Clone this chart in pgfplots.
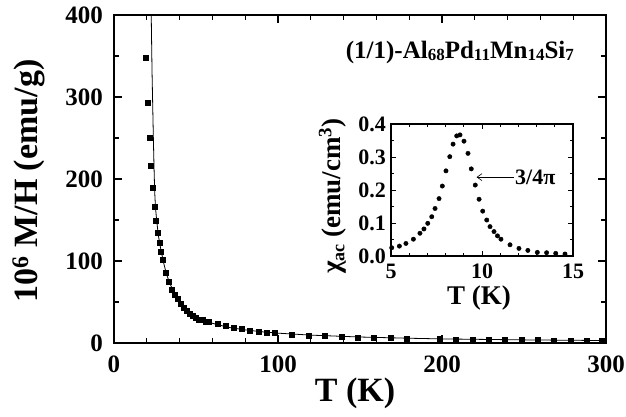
\documentclass[border=0pt]{standalone}
\usepackage{fontspec}
\setmainfont{Liberation Serif}
\usepackage{pgfplots}
\pgfplotsset{compat=1.18}
\usetikzlibrary{arrows.meta}
\newcommand\sub[1]{\raisebox{-1.5pt}{\fontsize{17}{17}\selectfont #1}}
\begin{document}
\begin{tikzpicture}[x=1pt,y=1pt]
\useasboundingbox (0,0) rectangle (626,416);
\begin{axis}[
  at={(114pt,73pt)}, anchor=south west, scale only axis,
  width=492pt, height=328pt,
  xmin=0, xmax=300, ymin=0, ymax=400,
  xtick={0,100,200,300}, ytick={0,100,200,300,400},
  minor xtick={20,40,60,80,120,140,160,180,220,240,260,280},
  minor ytick={50,150,250,350},
  tick align=inside, major tick length=8pt, minor tick length=5pt,
  axis line style={line width=2pt},
  every tick/.style={line width=1.2pt, black},
  /pgf/number format/assume math mode=true,
  ticklabel style={font=\bfseries\fontsize{25}{25}\selectfont},
  xticklabel style={inner sep=0pt, anchor=north, yshift=-13pt},
  yticklabel style={inner sep=0pt, anchor=east, xshift=-11pt},
  xlabel={T (K)},
  ylabel={10\textsuperscript{6} M/H (emu/g)},
  label style={font=\bfseries\fontsize{34}{34}\selectfont},
  xlabel style={at={(axis description cs:0.49,-0.152)}, anchor=center},
  ylabel style={at={(axis description cs:-0.174,0.494)}, anchor=center},
]
\addplot[black, line width=0.8pt] coordinates {
(22.7,400) (23.2,330) (23.6,290) (24.0,250) (24.4,215) (24.8,185) (25.3,165)
(26,150) (27,132) (28,120) (29,110) (30,100) (32,84) (34,73) (36,64) (38,56)
(40,50) (45,39) (50,32) (55,27) (60,24) (70,19) (80,16) (90,13.7) (100,12)
(120,9.6) (150,7.3) (180,5.8) (200,5) (250,3.8) (300,3.0)
};
\addplot[only marks, mark=square*, mark size=2.5pt, black] coordinates {
(19.5,348) (20.7,293) (21.8,250) (22.6,216) (23.6,189) (24.6,166) (25.6,149)
(26.6,134) (27.8,122) (28.7,111) (29.7,101) (31.5,86) (33.5,75) (35.4,65)
(37.0,59) (38.6,54) (40.4,48) (42.3,43) (44.3,39) (46.1,36) (48.0,33)
(49.8,31) (51.8,29) (53.8,28) (55.9,26) (57.9,25.5) (63,23) (68,21) (73,19)
(78,17) (83,15.5) (88.4,14) (93,13) (98,12.5) (108.5,10.6) (118.5,9.3)
(128.7,8.5) (138.6,7.7) (148.6,7.0) (158.5,6.5) (168.5,6.0) (178.5,5.7)
(198.4,4.7) (208.4,4.4) (218.5,4.2) (228.5,4.0) (238.5,3.8) (248.4,3.6)
(258.4,3.5) (268.4,3.3) (278.3,3.2) (288.3,3.1) (297.6,3.0)
};
\node[anchor=base, font=\bfseries\fontsize{25}{25}\selectfont, inner sep=0pt]
  at (axis description cs:0.703,0.866) {(1/1)-Al\sub{68}Pd\sub{11}Mn\sub{14}Si\sub{7}};
\end{axis}
\begin{axis}[
  at={(391pt,160pt)}, anchor=south west, scale only axis,
  width=182pt, height=132pt,
  xmin=5, xmax=15, ymin=0, ymax=0.4,
  xtick={5,10,15}, ytick={0,0.1,0.2,0.3,0.4},
  minor x tick num=4, minor y tick num=1,
  tick align=inside, major tick length=5pt, minor tick length=3pt,
  axis line style={line width=1.8pt},
  axis background/.style={fill=white},
  every tick/.style={line width=1pt, black},
  /pgf/number format/assume math mode=true,
  ticklabel style={font=\bfseries\fontsize{22}{22}\selectfont},
  xticklabel style={inner sep=0pt, anchor=north, yshift=-8pt},
  yticklabel style={inner sep=0pt, anchor=east, xshift=-5pt,
    /pgf/number format/fixed, /pgf/number format/fixed zerofill,
    /pgf/number format/precision=1},
  xlabel={T (K)},
  ylabel={χ\raisebox{-4pt}{\fontsize{18}{18}\selectfont ac} (emu/cm\textsuperscript{3})},
  label style={font=\bfseries\fontsize{27}{27}\selectfont},
  xlabel style={at={(axis description cs:0.484,-0.318)}, anchor=center},
  ylabel style={at={(axis description cs:-0.322,0.455)}, anchor=center},
]
\addplot[only marks, mark=*, mark size=2.2pt, black] coordinates {
(5.04,0.025) (5.46,0.030) (5.82,0.038) (6.23,0.051) (6.59,0.069) (6.81,0.082)
(7.02,0.099) (7.24,0.119) (7.42,0.144) (7.64,0.174) (7.82,0.212) (8.02,0.258)
(8.23,0.301) (8.41,0.339) (8.61,0.364) (8.79,0.367) (9.01,0.348) (9.23,0.311)
(9.41,0.264) (9.63,0.215) (9.84,0.172) (10.04,0.136) (10.26,0.109) (10.44,0.089)
(10.66,0.074) (10.85,0.061) (11.04,0.051) (11.54,0.034) (12.03,0.023)
(12.52,0.017) (13.04,0.011) (13.55,0.010) (14.05,0.008) (14.56,0.006)
};
\draw[{Straight Barb[length=5pt,width=7pt]}-, line width=0.6pt]
  (axis cs:9.7,0.239) -- (axis cs:11.75,0.239)
  node[right, inner sep=1pt, font=\bfseries\fontsize{22}{22}\selectfont] {3/4π};
\end{axis}
\end{tikzpicture}
\end{document}
